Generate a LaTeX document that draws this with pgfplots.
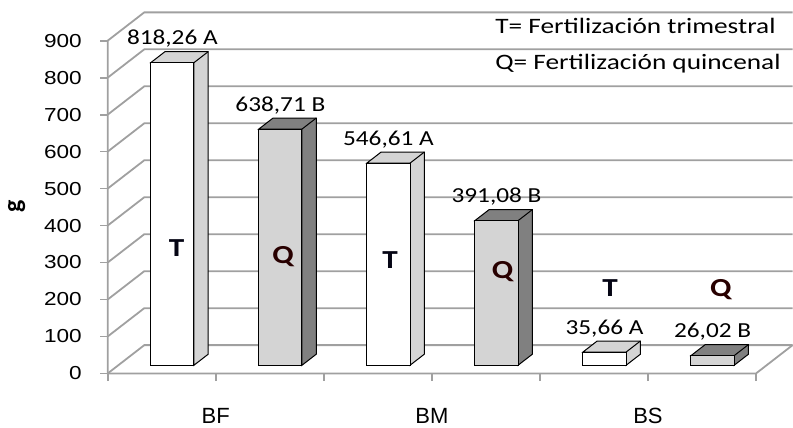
\documentclass[border=0pt]{standalone}
\usepackage{fontspec}
\setmainfont{Carlito}
\newfontfamily\valfont{Carlito}[FakeStretch=1.18]
\newfontfamily\legfont{Carlito}[FakeStretch=1.24]
\newfontfamily\letfont{Carlito}[FakeStretch=1.2]
\newfontfamily\tickfont{Liberation Sans}[FakeStretch=1.2]
\newfontfamily\catfont{Liberation Sans}
\usepackage{pgfplots}
\pgfplotsset{compat=1.18}
\definecolor{gridc}{RGB}{160,160,160}
\definecolor{tside}{RGB}{212,212,212}
\definecolor{qfront}{RGB}{212,212,212}
\definecolor{qside}{RGB}{128,128,128}
\definecolor{tlet}{RGB}{5,5,20}
\definecolor{qlet}{RGB}{40,0,0}
\begin{document}
\begin{tikzpicture}
\begin{axis}[
  x=54bp, y=0.1848bp,
  xmin=0, xmax=6.3387, ymin=0, ymax=976.57,
  clip=false,
  axis lines*=left,
  axis line style={draw=none},
  tick align=outside,
  ytick={0,100,...,900},
  xtick={0,1,2,3,4,5,6},
  xticklabels={,BF,,BM,,BS,},
  major tick length=3.8bp,
  tick style={gridc, line width=0.9bp},
  /pgf/number format/assume math mode=true,
  yticklabel style={font=\tickfont\fontsize{9.4bp}{11bp}\selectfont, inner sep=0pt, xshift=-9bp},
  xticklabel style={font=\catfont\fontsize{11bp}{13bp}\selectfont, inner sep=0pt, yshift=-13.5bp},
  ylabel={g},
  ylabel style={font=\bfseries\fontsize{13bp}{15bp}\selectfont, at={(axis description cs:-0.1328,0.4615)}, anchor=center},
]
% walls and grid
\pgfplotsinvokeforeach{0,100,...,900}{
  \draw[gridc, line width=0.9bp] (axis cs:0,#1) -- ++(18.29bp,14.15bp) -- ++(324bp,0);
}
\draw[gridc, line width=0.9bp] (axis cs:0,900) -- (axis cs:0,0) -- (axis cs:6,0) -- ++(18.29bp,14.15bp);

% extrusions (top + side faces)
\addplot[fill=tside, draw=black, line width=0.5bp] coordinates {(0.7982,22.21) (0.9303,52.07) (0.9303,870.33) (0.5303,870.33) (0.3982,840.47) (0.7982,840.47)} -- cycle;
\addplot[draw=black, line width=0.5bp] coordinates {(0.7982,840.47) (0.9303,870.33)};
\addplot[fill=qside, draw=black, line width=0.5bp] coordinates {(1.7982,22.21) (1.9303,52.07) (1.9303,690.78) (1.5303,690.78) (1.3982,660.92) (1.7982,660.92)} -- cycle;
\addplot[draw=black, line width=0.5bp] coordinates {(1.7982,660.92) (1.9303,690.78)};
\addplot[fill=tside, draw=black, line width=0.5bp] coordinates {(2.7982,22.21) (2.9303,52.07) (2.9303,598.68) (2.5303,598.68) (2.3982,568.82) (2.7982,568.82)} -- cycle;
\addplot[draw=black, line width=0.5bp] coordinates {(2.7982,568.82) (2.9303,598.68)};
\addplot[fill=qside, draw=black, line width=0.5bp] coordinates {(3.7982,22.21) (3.9303,52.07) (3.9303,443.15) (3.5303,443.15) (3.3982,413.29) (3.7982,413.29)} -- cycle;
\addplot[draw=black, line width=0.5bp] coordinates {(3.7982,413.29) (3.9303,443.15)};
\addplot[fill=tside, draw=black, line width=0.5bp] coordinates {(4.7982,22.21) (4.9303,52.07) (4.9303,87.73) (4.5303,87.73) (4.3982,57.87) (4.7982,57.87)} -- cycle;
\addplot[draw=black, line width=0.5bp] coordinates {(4.7982,57.87) (4.9303,87.73)};
\addplot[fill=qside, draw=black, line width=0.5bp] coordinates {(5.7982,22.21) (5.9303,52.07) (5.9303,78.09) (5.5303,78.09) (5.3982,48.23) (5.7982,48.23)} -- cycle;
\addplot[draw=black, line width=0.5bp] coordinates {(5.7982,48.23) (5.9303,78.09)};

% front faces (values)
\addplot[ybar, bar width=0.4, fill=white, draw=black, line width=0.5bp, xshift=5.30bp, yshift=4.10bp,
  point meta=explicit symbolic, nodes near coords,
  every node near coord/.append style={anchor=base, yshift=8.85bp, font=\valfont\fontsize{10.7bp}{12bp}\selectfont, text=black}]
  coordinates {(0.5,818.26) [818,26 A] (2.5,546.61) [546,61 A] (4.5,35.66) [35,66 A]};
\addplot[ybar, bar width=0.4, fill=qfront, draw=black, line width=0.5bp, xshift=5.30bp, yshift=4.10bp,
  point meta=explicit symbolic, nodes near coords,
  every node near coord/.append style={anchor=base, yshift=8.85bp, font=\valfont\fontsize{10.7bp}{12bp}\selectfont, text=black}]
  coordinates {(1.5,638.71) [638,71 B] (3.5,391.08) [391,08 B] (5.5,26.02) [26,02 B]};

% T / Q letters
\addplot[only marks, mark=*, mark size=0pt, mark options={draw=none, fill=none},
  point meta=explicit symbolic, nodes near coords,
  every node near coord/.append style={anchor=base, font=\letfont\bfseries\fontsize{13bp}{15bp}\selectfont, text=tlet}]
  coordinates {(0.6386,315.5) [T] (2.613,284) [T] (4.649,207.3) [T]};
\addplot[only marks, mark=*, mark size=0pt, mark options={draw=none, fill=none},
  point meta=explicit symbolic, nodes near coords,
  every node near coord/.append style={anchor=base, font=\letfont\bfseries\fontsize{13bp}{15bp}\selectfont, text=qlet}]
  coordinates {(1.622,297.6) [Q] (3.654,257.8) [Q] (5.674,207.3) [Q]};

% text box
\node[anchor=base west, inner sep=0pt, font=\legfont\fontsize{11bp}{13bp}\selectfont] at (axis cs:3.584,920.7) {T= Fertilización trimestral};
\node[anchor=base west, inner sep=0pt, font=\legfont\fontsize{11bp}{13bp}\selectfont] at (axis cs:3.584,822) {Q= Fertilización quincenal};

\coordinate (TL) at (axis cs:-0.9968,1010.0);
\coordinate (BR) at (axis cs:6.3425,-145.3);
\end{axis}
\pgfresetboundingbox
\path[use as bounding box] (TL) rectangle (BR);
\end{tikzpicture}
\end{document}
